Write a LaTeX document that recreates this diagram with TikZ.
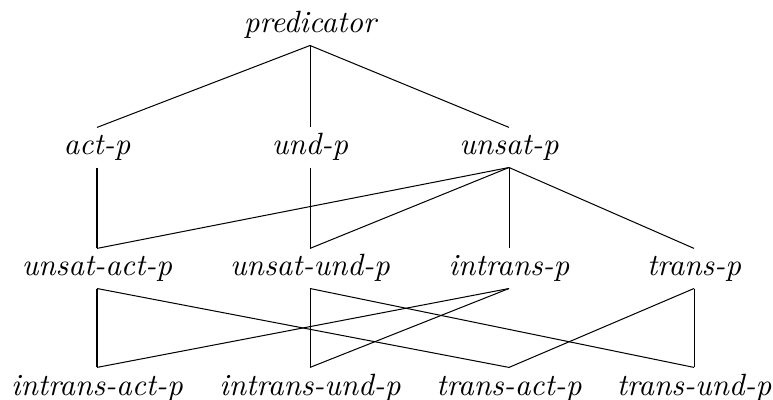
\documentclass[tikz,border=0pt]{standalone}
\usepackage{tikz}

\begin{document}
\begin{tikzpicture}[
  x=0.325pt, y=-0.325pt, line width=0.33pt,
  typ/.style={anchor=base, inner sep=1.6pt, text height=7.2pt, text depth=2.3pt,
    font=\itshape}
]
  \useasboundingbox (0,0) rectangle (773,400);
  % Hierarchie des types, quatre niveaux.
  \node[typ] (pred) at (310,33) {predicator};

  \node[typ] (act) at (97,155) {act-p};
  \node[typ] (und) at (310,155) {und-p};
  \node[typ] (unsat) at (509,155) {unsat-p};

  \node[typ] (uact) at (97,276) {unsat-act-p};
  \node[typ] (uund) at (310,276) {unsat-und-p};
  \node[typ] (intr) at (509,276) {intrans-p};
  \node[typ] (tr) at (694,276) {trans-p};

  \node[typ] (iact) at (97,395) {intrans-act-p};
  \node[typ] (iund) at (310,395) {intrans-und-p};
  \node[typ] (tact) at (509,395) {trans-act-p};
  \node[typ] (tund) at (694,395) {trans-und-p};

  \draw (pred.south) -- (act.north);
  \draw (pred.south) -- (und.north);
  \draw (pred.south) -- (unsat.north);

  \draw (act.south) -- (uact.north);
  \draw (und.south) -- (uund.north);
  \draw (unsat.south) -- (uact.north);
  \draw (unsat.south) -- (uund.north);
  \draw (unsat.south) -- (intr.north);
  \draw (unsat.south) -- (tr.north);

  \draw (uact.south) -- (iact.north);
  \draw (uact.south) -- (tact.north);
  \draw (uund.south) -- (iund.north);
  \draw (uund.south) -- (tund.north);
  \draw (intr.south) -- (iact.north);
  \draw (intr.south) -- (iund.north);
  \draw (tr.south) -- (tact.north);
  \draw (tr.south) -- (tund.north);
\end{tikzpicture}
\end{document}
